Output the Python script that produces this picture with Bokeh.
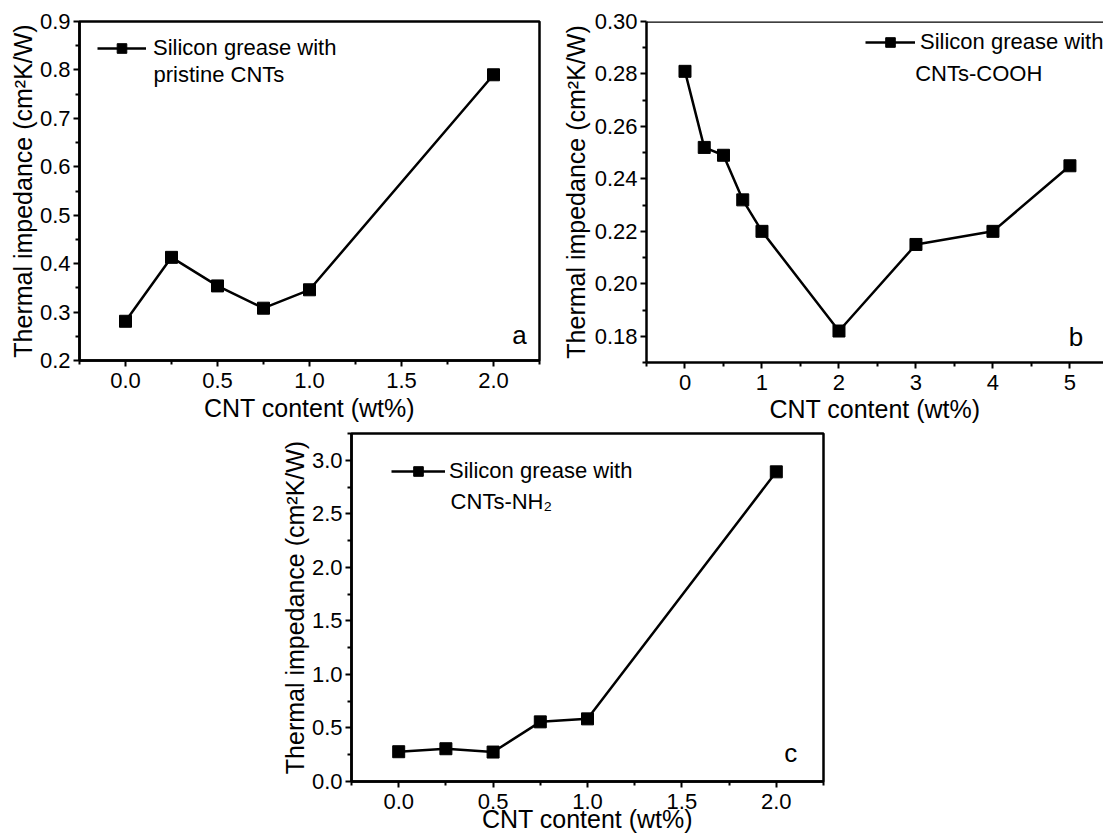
from bokeh.plotting import figure
from bokeh.layouts import column, row
from bokeh.models import (FixedTicker, PrintfTickFormatter, Legend, LegendItem,
                          Label, Span, Spacer, Range1d)
from bokeh.embed import file_html
from bokeh.resources import INLINE

# ---------------- data ----------------
a_x = [0.0, 0.25, 0.5, 0.75, 1.0, 2.0]
a_y = [0.281, 0.413, 0.354, 0.308, 0.346, 0.790]

b_x = [0, 0.25, 0.5, 0.75, 1, 2, 3, 4, 5]
b_y = [0.281, 0.252, 0.249, 0.232, 0.220, 0.182, 0.215, 0.220, 0.245]

c_x = [0.0, 0.25, 0.5, 0.75, 1.0, 2.0]
c_y = [0.278, 0.306, 0.275, 0.557, 0.585, 2.892]

a_xticks = [0.0, 0.5, 1.0, 1.5, 2.0]
a_xminor = [-0.25, 0.25, 0.75, 1.25, 1.75, 2.25]
a_yticks = [0.2, 0.3, 0.4, 0.5, 0.6, 0.7, 0.8, 0.9]
a_yminor = [0.25, 0.35, 0.45, 0.55, 0.65, 0.75, 0.85]

b_xticks = [0, 1, 2, 3, 4, 5]
b_xminor = [-0.5, 0.5, 1.5, 2.5, 3.5, 4.5]
b_yticks = [0.18, 0.20, 0.22, 0.24, 0.26, 0.28, 0.30]
b_yminor = [0.17, 0.19, 0.21, 0.23, 0.25, 0.27, 0.29]

c_xticks = a_xticks
c_xminor = a_xminor
c_yticks = [0.0, 0.5, 1.0, 1.5, 2.0, 2.5, 3.0]
c_yminor = [0.25, 0.75, 1.25, 1.75, 2.25, 2.75, 3.25]

xlabel = "CNT content (wt%)"
ylabel = "Thermal impedance (cm\u00b2K/W)"
legend_line1 = "Silicon grease with"
a_line2 = "pristine CNTs"
b_line2 = "CNTs-COOH"
c_line2 = "CNTs-NH\u2082"

FONT = "Liberation Sans"
LW = 2.5


def make_fig(x, y, xr, yr, xt, xm, yt, ym, xfmt, yfmt, w, h, mbl, mbr, mbt, mbb,
             xl_standoff=0, yl_standoff=0, tick_standoff=6, outline=True):
    p = figure(width=w, height=h, x_range=Range1d(*xr), y_range=Range1d(*yr),
               output_backend="svg", toolbar_location=None,
               min_border_left=mbl, min_border_right=mbr,
               min_border_top=mbt, min_border_bottom=mbb)
    p.xgrid.visible = False
    p.ygrid.visible = False
    p.background_fill_color = "white"
    p.border_fill_color = "white"
    if outline:
        p.outline_line_color = "black"
        p.outline_line_width = LW
        p.outline_line_alpha = 1
    else:
        p.outline_line_color = None
    p.xaxis.ticker = FixedTicker(ticks=xt, minor_ticks=xm)
    p.yaxis.ticker = FixedTicker(ticks=yt, minor_ticks=ym)
    p.xaxis.formatter = PrintfTickFormatter(format=xfmt)
    p.yaxis.formatter = PrintfTickFormatter(format=yfmt)
    p.xaxis.axis_label = xlabel
    p.yaxis.axis_label = ylabel
    for ax in (p.xaxis, p.yaxis):
        ax.axis_line_width = LW
        ax.axis_line_color = "black"
        ax.major_tick_line_width = 2
        ax.minor_tick_line_width = 2
        ax.major_tick_line_color = "black"
        ax.minor_tick_line_color = "black"
        ax.major_tick_in = 0
        ax.major_tick_out = 6
        ax.minor_tick_in = 0
        ax.minor_tick_out = 4
        ax.major_label_text_font = FONT
        ax.major_label_text_font_size = "22px"
        ax.major_label_text_color = "black"
        ax.axis_label_text_font = FONT
        ax.axis_label_text_font_size = "25px"
        ax.axis_label_text_font_style = "normal"
        ax.axis_label_text_color = "black"
    p.xaxis.major_label_standoff = tick_standoff
    p.yaxis.major_label_standoff = 3
    p.xaxis.axis_label_standoff = xl_standoff
    p.yaxis.axis_label_standoff = yl_standoff
    lr = p.line(x, y, line_width=LW, color="black")
    sr = p.scatter(x, y, marker="square", size=12, color="black")
    return p, lr, sr


def add_legend(p, lr, sr, loc, gw, standoff):
    leg = Legend(items=[LegendItem(label=legend_line1, renderers=[lr, sr])],
                 location=loc, glyph_width=gw, glyph_height=24, label_height=24,
                 label_standoff=standoff, padding=0, margin=0, spacing=0,
                 border_line_color=None, background_fill_alpha=0,
                 label_text_font=FONT, label_text_font_size="22px",
                 label_text_color="black")
    p.add_layout(leg)


def add_text(p, x, y, txt, size="22px", align="left"):
    p.add_layout(Label(x=x, y=y, text=txt, text_font=FONT, text_font_size=size,
                       text_align=align, text_baseline="middle", text_color="black"))


# ---------------- panel a ----------------
pa, la, sa = make_fig(a_x, a_y, (-0.25, 2.25), (0.2, 0.9), a_xticks, a_xminor,
                      a_yticks, a_yminor, "%.1f", "%.1f",
                      w=558, h=424, mbl=79, mbr=19, mbt=21, mbb=63,
                      xl_standoff=3, yl_standoff=0)
add_legend(pa, la, sa, (18, 299), 49, 7)
add_text(pa, 0.152, 0.790, a_line2)
add_text(pa, 2.141, 0.2535, "a", size="26px", align="center")

# ---------------- panel b ----------------
b_xr = (-0.5, 5.436)
b_yr = (0.17, 0.30)
pb, lb, sb = make_fig(b_x, b_y, b_xr, b_yr, b_xticks, b_xminor,
                      b_yticks, b_yminor, "%d", "%.2f",
                      w=545, h=426, mbl=82, mbr=0, mbt=20, mbb=62,
                      xl_standoff=2, yl_standoff=2, outline=False)
pb.add_layout(Span(location=b_yr[1], dimension="width", line_color="black",
                   line_width=LW))
add_legend(pb, lb, sb, (219, 307), 50, 5)
add_text(pb, 2.99, 0.280, b_line2)
add_text(pb, 5.077, 0.1798, "b", size="26px", align="center")

# ---------------- panel c ----------------
pc, lc, sc = make_fig(c_x, c_y, (-0.25, 2.25), (0.0, 3.25), c_xticks, c_xminor,
                      c_yticks, c_yminor, "%.1f", "%.1f",
                      w=566, h=409, mbl=70, mbr=20, mbt=7, mbb=53,
                      xl_standoff=-7, yl_standoff=0)
add_legend(pc, lc, sc, (40, 297), 54, 4)
add_text(pc, 0.275, 2.619, c_line2)
add_text(pc, 2.077, 0.27, "c", size="26px", align="center")

layout = column(row(pa, pb), row(Spacer(width=277, height=10), pc))

open("out.html", "w").write(file_html(layout, INLINE))
